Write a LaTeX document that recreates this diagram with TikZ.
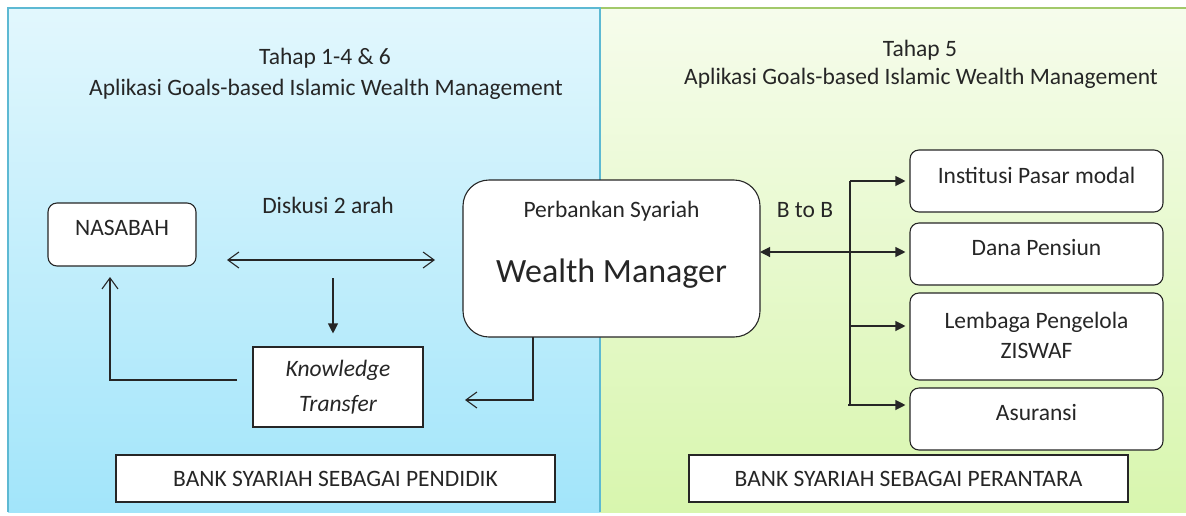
\documentclass[tikz,border=0pt]{standalone}
\usepackage{fontspec}
\setmainfont{Carlito}
\usetikzlibrary{arrows.meta}
\definecolor{lblue1}{HTML}{E2F7FD}
\definecolor{lblue2}{HTML}{A2E5FA}
\definecolor{lbluebd}{HTML}{5DB9D3}
\definecolor{lgreen1}{HTML}{F6FCEC}
\definecolor{lgreen2}{HTML}{D8F6AE}
\definecolor{lgreenbd}{HTML}{A2C96A}
\definecolor{ink}{HTML}{262626}
\tikzset{
  txt/.style={font=\fontsize{23.5}{30}\selectfont, text=ink, inner sep=0pt},
  big/.style={font=\fontsize{34}{40}\selectfont, text=ink, inner sep=0pt},
  rbox/.style={draw=ink, fill=white, line width=1.1pt, rounded corners=9pt, inner sep=0pt},
  sbox/.style={draw=ink, fill=white, line width=1.1pt, inner sep=0pt},
  conn/.style={draw=ink, line width=1.1pt},
  opentip/.style={conn, -{Straight Barb[length=11pt,width=16pt,line width=1.1pt]}},
  filltip/.style={conn, -{Triangle[length=10pt,width=10pt]}},
  bothfill/.style={conn, {Triangle[length=10pt,width=10pt]}-{Triangle[length=10pt,width=10pt]}},
  bothopen/.style={conn, {Straight Barb[length=11pt,width=16pt,line width=1.1pt]}-{Straight Barb[length=11pt,width=16pt,line width=1.1pt]}},
}
\begin{document}
\begin{tikzpicture}[x=1pt,y=-1pt]
\useasboundingbox (0,0) rectangle (1186,515);
% panels
\shade[top color=lblue1, bottom color=lblue2] (8,8) rectangle (600,512);
\draw[lbluebd, line width=1.2pt] (8,512) -- (8,8) -- (600,8) -- (600,512);
\shade[top color=lgreen1, bottom color=lgreen2] (600,8) rectangle (1186,512);
\draw[lgreenbd, line width=1.2pt] (601,8) -- (1186,8);
\draw[lbluebd, line width=1.2pt] (600,8) -- (600,512);
% headings
\node[txt] (h1a) at (325,58) {Tahap 1-4 \& 6};
\node[txt] (h1b) at (326,89) {Aplikasi Goals-based Islamic Wealth Management};
\node[txt] (h2a) at (920,50) {Tahap 5};
\node[txt] (h2b) at (921,78) {Aplikasi Goals-based Islamic Wealth Management};
% left side
\node[rbox, minimum width=148pt, minimum height=63pt] (nas) at (122,234.5) {};
\node[txt] (nast) at (122,228) {NASABAH};
\node[txt] (disk) at (328,205) {Diskusi 2 arah};
\node[sbox, minimum width=170pt, minimum height=80pt, txt, align=center,
      font=\fontsize{23.5}{35}\itshape] (kt) at (338,387) {Knowledge\\Transfer};
\node[rbox, rounded corners=26pt, minimum width=297pt, minimum height=157pt] (wm) at (611.5,258.5) {};
\node[txt] (wmt1) at (611.5,211) {Perbankan Syariah};
\node[big] (wmt2) at (611.5,274) {Wealth Manager};
\node[sbox, minimum width=439pt, minimum height=47pt, txt] (pend) at (335.5,478.5) {BANK SYARIAH SEBAGAI PENDIDIK};
% right side
\node[rbox, minimum width=253pt, minimum height=62pt] (inst) at (1036.5,181) {};
\node[txt] (instt) at (1036.5,175) {Institusi Pasar modal};
\node[rbox, minimum width=253pt, minimum height=62pt] (dana) at (1036.5,254) {};
\node[txt] (danat) at (1036.5,247) {Dana Pensiun};
\node[rbox, minimum width=253pt, minimum height=87pt] (lemb) at (1036.5,336.5) {};
\node[txt, align=center, font=\fontsize{23.5}{30}\selectfont] (lembt) at (1036.5,335) {Lembaga Pengelola\\ZISWAF};
\node[rbox, minimum width=253pt, minimum height=62pt] (asur) at (1036.5,419) {};
\node[txt] (asurt) at (1036.5,412) {Asuransi};
\node[txt] (btob) at (805,210) {B to B};
\node[sbox, minimum width=439pt, minimum height=47pt, txt] (pera) at (908.5,478.5) {BANK SYARIAH SEBAGAI PERANTARA};
% coordinates
\coordinate (dl) at (227,260);
\coordinate (dr) at (435,260);
\coordinate (dtop) at (333,278);
\coordinate (ktout) at (237,380);
\coordinate (nasin) at (110,277);
\coordinate (wmout) at (533,337);
\coordinate (ktin) at (465,400);
\coordinate (bb) at (760,252);
\coordinate (vtop) at (850,181);
\coordinate (vbot) at (850,405);
\coordinate (vmid) at (850,326);
\coordinate (vlow) at (848,405);
% connectors
\draw[bothopen] (dl) -- (dr);
\draw[filltip] (dtop) -- ([yshift=13pt]kt.north -| dtop);
\draw[opentip] (ktout) -| (nasin);
\draw[opentip] (wmout) |- (ktin);
\draw[bothfill] (bb) -- ([xshift=-4pt]dana.west |- bb);
\draw[conn] (vtop) -- (vbot);
\draw[filltip] (vtop) -- ([xshift=-4pt]inst.west |- vtop);
\draw[filltip] (vmid) -- ([xshift=-4pt]lemb.west |- vmid);
\draw[filltip] (vlow) -- ([xshift=-4pt]asur.west |- vlow);
\end{tikzpicture}
\end{document}
